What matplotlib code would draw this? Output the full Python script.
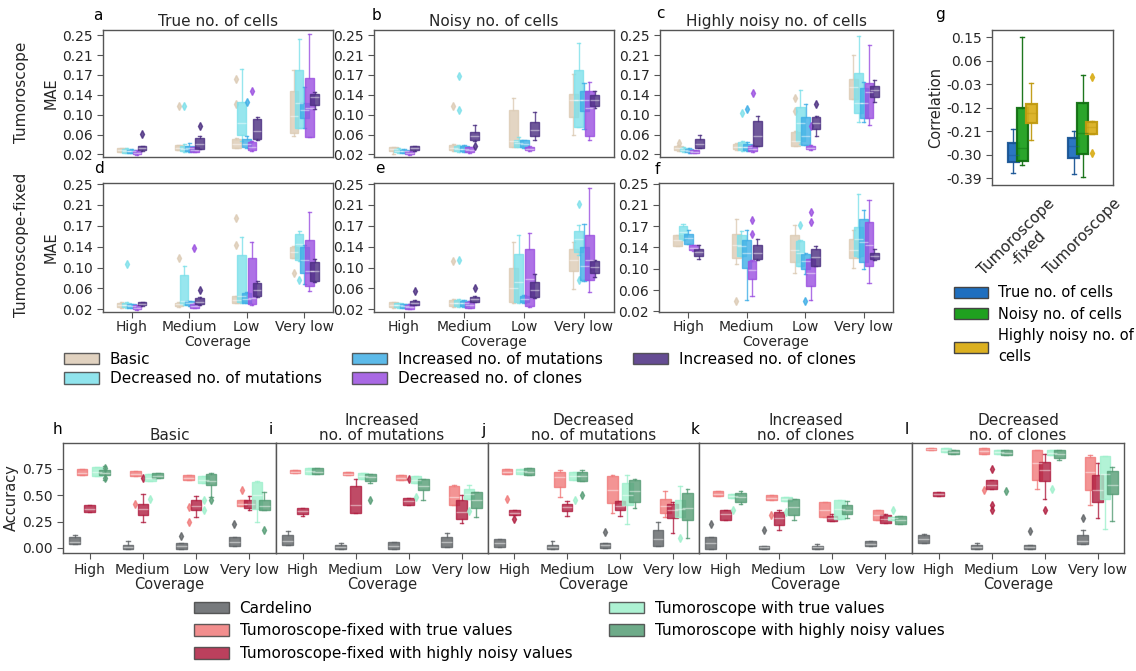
import numpy as np
import matplotlib.pyplot as plt
from matplotlib.patches import Patch

W, H = 1136, 671
fig = plt.figure(figsize=(W / 100, H / 100), dpi=100)
plt.rcParams['font.family'] = 'DejaVu Sans'

coverage = ["High", "Medium", "Low", "Very low"]

# ---- panels a-f : MAE, box stats per coverage, 5 scenarios (lo, q1, med, q3, hi) ----
scenarios = ["Basic", "Decreased no. of mutations", "Increased no. of mutations",
             "Decreased no. of clones", "Increased no. of clones"]
scen_colors = ["#dccbb5", "#7de0ea", "#3faee6", "#9a4fe0", "#4a2d80"]

mae_a = [
    [(0.024, 0.025, 0.028, 0.032, 0.033), (0.022, 0.023, 0.027, 0.031, 0.032), (0.022, 0.023, 0.026, 0.029, 0.030), (0.019, 0.020, 0.023, 0.027, 0.028), (0.027, 0.028, 0.032, 0.036, 0.037)],
    [(0.028, 0.029, 0.033, 0.0375, 0.039), (0.025, 0.026, 0.031, 0.036, 0.040), (0.025, 0.027, 0.032, 0.037, 0.042), (0.024, 0.025, 0.029, 0.034, 0.035), (0.030, 0.031, 0.040, 0.052, 0.055)],
    [(0.032, 0.033, 0.040, 0.050, 0.052), (0.045, 0.057, 0.080, 0.122, 0.184), (0.033, 0.034, 0.041, 0.050, 0.055), (0.027, 0.028, 0.035, 0.044, 0.045), (0.047, 0.050, 0.065, 0.089, 0.092)],
    [(0.055, 0.062, 0.095, 0.143, 0.182), (0.070, 0.070, 0.120, 0.182, 0.242), (0.070, 0.090, 0.105, 0.120, 0.150), (0.054, 0.054, 0.110, 0.167, 0.252), (0.107, 0.115, 0.130, 0.137, 0.140)],
]
fliers_a = {(0, 4): [0.059], (1, 0): [0.113], (1, 1): [0.113], (1, 4): [0.075],
            (2, 0): [0.166, 0.117], (2, 2): [0.121], (2, 3): [0.143]}

mae_b = [
    [(0.021, 0.026, 0.030, 0.034, 0.035), (0.023, 0.024, 0.027, 0.031, 0.032), (0.022, 0.023, 0.026, 0.029, 0.030), (0.019, 0.020, 0.023, 0.026, 0.027), (0.027, 0.028, 0.032, 0.036, 0.037)],
    [(0.027, 0.028, 0.033, 0.039, 0.041), (0.025, 0.026, 0.031, 0.037, 0.038), (0.025, 0.026, 0.031, 0.037, 0.038), (0.023, 0.024, 0.029, 0.034, 0.035), (0.045, 0.048, 0.055, 0.063, 0.077)],
    [(0.034, 0.035, 0.045, 0.105, 0.129), (0.034, 0.035, 0.042, 0.048, 0.053), (0.033, 0.034, 0.040, 0.047, 0.048), (0.027, 0.028, 0.031, 0.035, 0.036), (0.048, 0.056, 0.068, 0.082, 0.102)],
    [(0.058, 0.092, 0.125, 0.137, 0.175), (0.072, 0.072, 0.125, 0.183, 0.234), (0.069, 0.104, 0.125, 0.142, 0.157), (0.048, 0.056, 0.110, 0.143, 0.160), (0.110, 0.113, 0.125, 0.134, 0.143)],
]
fliers_b = {(1, 0): [0.113], (1, 1): [0.172, 0.106], (1, 4): [0.036]}

mae_c = [
    [(0.027, 0.028, 0.032, 0.037, 0.038), (0.025, 0.026, 0.029, 0.033, 0.034), (0.023, 0.024, 0.027, 0.031, 0.032), (0.022, 0.023, 0.025, 0.028, 0.029), (0.032, 0.033, 0.040, 0.050, 0.058)],
    [(0.029, 0.030, 0.035, 0.041, 0.042), (0.027, 0.028, 0.035, 0.044, 0.046), (0.027, 0.028, 0.034, 0.041, 0.043), (0.025, 0.026, 0.031, 0.037, 0.038), (0.036, 0.037, 0.055, 0.084, 0.094)],
    [(0.036, 0.037, 0.045, 0.064, 0.066), (0.040, 0.045, 0.080, 0.111, 0.144), (0.038, 0.039, 0.055, 0.092, 0.118), (0.029, 0.030, 0.033, 0.037, 0.038), (0.055, 0.069, 0.080, 0.092, 0.094)],
    [(0.126, 0.126, 0.150, 0.166, 0.212), (0.082, 0.100, 0.120, 0.177, 0.249), (0.083, 0.090, 0.120, 0.149, 0.160), (0.077, 0.090, 0.140, 0.158, 0.232), (0.122, 0.130, 0.145, 0.152, 0.164)],
]
fliers_c = {(0, 0): [0.042], (1, 1): [0.100], (1, 2): [0.108], (1, 3): [0.139],
            (2, 0): [0.128, 0.103], (2, 3): [0.074], (2, 4): [0.118]}

mae_d = [
    [(0.023, 0.024, 0.028, 0.032, 0.033), (0.023, 0.024, 0.028, 0.032, 0.033), (0.022, 0.023, 0.026, 0.029, 0.030), (0.019, 0.020, 0.023, 0.027, 0.028), (0.026, 0.027, 0.030, 0.033, 0.034)],
    [(0.025, 0.026, 0.029, 0.032, 0.033), (0.028, 0.029, 0.035, 0.083, 0.100), (0.026, 0.027, 0.031, 0.035, 0.036), (0.022, 0.023, 0.026, 0.030, 0.031), (0.028, 0.029, 0.034, 0.041, 0.042)],
    [(0.031, 0.032, 0.037, 0.044, 0.045), (0.032, 0.033, 0.045, 0.120, 0.152), (0.031, 0.032, 0.038, 0.050, 0.052), (0.028, 0.029, 0.040, 0.115, 0.144), (0.043, 0.044, 0.055, 0.069, 0.072)],
    [(0.114, 0.115, 0.125, 0.135, 0.137), (0.108, 0.110, 0.140, 0.158, 0.163), (0.066, 0.087, 0.110, 0.134, 0.138), (0.054, 0.062, 0.090, 0.147, 0.198), (0.071, 0.072, 0.090, 0.107, 0.112)],
]
fliers_d = {(0, 1): [0.103], (1, 0): [0.115], (1, 3): [0.132], (1, 4): [0.055],
            (2, 0): [0.187, 0.138], (3, 0): [0.087], (3, 1): [0.073]}

mae_e = [
    [(0.022, 0.024, 0.028, 0.033, 0.034), (0.023, 0.024, 0.027, 0.031, 0.032), (0.022, 0.023, 0.026, 0.029, 0.030), (0.020, 0.021, 0.024, 0.028, 0.029), (0.027, 0.028, 0.032, 0.036, 0.037)],
    [(0.025, 0.026, 0.031, 0.037, 0.038), (0.025, 0.026, 0.031, 0.037, 0.038), (0.025, 0.026, 0.031, 0.036, 0.037), (0.022, 0.023, 0.028, 0.034, 0.035), (0.033, 0.034, 0.038, 0.043, 0.044)],
    [(0.032, 0.033, 0.060, 0.096, 0.144), (0.032, 0.033, 0.070, 0.121, 0.157), (0.032, 0.033, 0.038, 0.045, 0.046), (0.025, 0.026, 0.075, 0.130, 0.160), (0.041, 0.042, 0.055, 0.070, 0.084)],
    [(0.057, 0.090, 0.110, 0.130, 0.144), (0.120, 0.126, 0.150, 0.163, 0.174), (0.072, 0.073, 0.100, 0.134, 0.177), (0.051, 0.074, 0.110, 0.157, 0.242), (0.079, 0.087, 0.098, 0.109, 0.110)],
]
fliers_e = {(0, 4): [0.054], (1, 0): [0.109], (1, 1): [0.111], (1, 4): [0.059], (3, 1): [0.213, 0.073]}

mae_f = [
    [(0.137, 0.138, 0.148, 0.157, 0.158), (0.149, 0.150, 0.162, 0.174, 0.177), (0.141, 0.142, 0.152, 0.160, 0.166), (0.129, 0.130, 0.134, 0.139, 0.140), (0.115, 0.120, 0.127, 0.133, 0.139)],
    [(0.105, 0.117, 0.140, 0.159, 0.187), (0.119, 0.120, 0.138, 0.157, 0.165), (0.041, 0.099, 0.125, 0.148, 0.166), (0.048, 0.079, 0.095, 0.111, 0.112), (0.113, 0.114, 0.125, 0.139, 0.150)],
    [(0.090, 0.109, 0.130, 0.157, 0.175), (0.101, 0.102, 0.125, 0.147, 0.148), (0.087, 0.097, 0.110, 0.124, 0.125), (0.041, 0.065, 0.090, 0.114, 0.115), (0.101, 0.102, 0.118, 0.132, 0.137)],
    [(0.099, 0.117, 0.130, 0.151, 0.166), (0.118, 0.119, 0.150, 0.171, 0.232), (0.096, 0.109, 0.145, 0.187, 0.202), (0.071, 0.101, 0.140, 0.181, 0.220), (0.113, 0.114, 0.120, 0.126, 0.132)],
]
fliers_f = {(1, 0): [0.039], (1, 3): [0.184, 0.160], (2, 1): [0.175], (2, 2): [0.039], (2, 3): [0.199, 0.180]}

mae_titles = ["True no. of cells", "Noisy no. of cells", "Highly noisy no. of cells"]
mae_ticks = np.linspace(0.02, 0.25, 7)
mae_ticklabels = ["0.02", "0.06", "0.10", "0.14", "0.17", "0.21", "0.25"]

# ---- panel g : correlation ----
models_g = ["Tumoroscope\n-fixed", "Tumoroscope"]
cells_noise = ["True no. of cells", "Noisy no. of cells", "Highly noisy no. of\ncells"]
noise_colors = ["#1f6fbf", "#1fa01f", "#dbb020"]
noise_edges = ["#1a5595", "#137013", "#c09a10"]
corr = [
    [(-0.369, -0.326, -0.301, -0.256, -0.202), (-0.339, -0.323, -0.275, -0.122, 0.153), (-0.243, -0.177, -0.139, -0.105, -0.026)],
    [(-0.374, -0.314, -0.266, -0.237, -0.208), (-0.386, -0.297, -0.218, -0.103, 0.006), (-0.222, -0.220, -0.192, -0.173, -0.170)],
]
fliers_g = {(1, 2): [-0.001, -0.292]}
corr_ticks = np.linspace(-0.39, 0.15, 7)
corr_ticklabels = ["-0.39", "-0.30", "-0.21", "-0.12", "-0.03", "0.06", "0.15"]

# ---- panels h-l : accuracy, 5 methods ----
methods = ["Cardelino", "Tumoroscope-fixed with true values", "Tumoroscope-fixed with highly noisy values",
           "Tumoroscope with true values", "Tumoroscope with highly noisy values"]
method_colors = ["#5f6366", "#f07a7a", "#b01e40", "#9ff0cc", "#559c75"]
acc_titles = ["Basic", "Increased\nno. of mutations", "Decreased\nno. of mutations",
              "Increased\nno. of clones", "Decreased\nno. of clones"]

acc_h = [
    [(0.034, 0.034, 0.06, 0.103, 0.12), (0.687, 0.687, 0.71, 0.75, 0.75), (0.34, 0.34, 0.37, 0.403, 0.403), (0.677, 0.677, 0.72, 0.766, 0.77), (0.645, 0.687, 0.71, 0.74, 0.78)],
    [(-0.007, -0.007, 0.01, 0.024, 0.065), (0.68, 0.68, 0.70, 0.725, 0.725), (0.245, 0.315, 0.37, 0.42, 0.507), (0.633, 0.633, 0.66, 0.703, 0.703), (0.665, 0.665, 0.68, 0.712, 0.712)],
    [(-0.007, -0.007, 0.02, 0.047, 0.047), (0.646, 0.646, 0.665, 0.687, 0.687), (0.293, 0.356, 0.40, 0.45, 0.488), (0.614, 0.614, 0.64, 0.677, 0.677), (0.482, 0.592, 0.63, 0.703, 0.709)],
    [(0.015, 0.015, 0.06, 0.103, 0.103), (0.394, 0.394, 0.42, 0.45, 0.45), (0.362, 0.38, 0.42, 0.457, 0.488), (0.245, 0.37, 0.50, 0.624, 0.633), (0.356, 0.356, 0.40, 0.45, 0.529)],
]
fliers_h = {(0, 4): [0.66, 0.76], (1, 1): [0.42], (1, 2): [0.665], (1, 3): [0.466], (2, 0): [0.11],
            (2, 1): [0.39, 0.25], (2, 3): [0.36, 0.457], (2, 4): [0.45], (3, 0): [0.23], (3, 1): [0.55], (3, 4): [0.166]}

acc_i = [
    [(0.025, 0.025, 0.07, 0.119, 0.16), (0.71, 0.71, 0.72, 0.74, 0.74), (0.302, 0.318, 0.35, 0.381, 0.381), (0.703, 0.703, 0.725, 0.756, 0.756), (0.696, 0.696, 0.72, 0.756, 0.756)],
    [(-0.007, -0.007, 0.01, 0.03, 0.047), (0.687, 0.687, 0.70, 0.718, 0.718), (0.33, 0.33, 0.403, 0.583, 0.655), (0.655, 0.655, 0.68, 0.709, 0.709), (0.614, 0.633, 0.67, 0.703, 0.703)],
    [(-0.007, -0.007, 0.02, 0.056, 0.056), (0.64, 0.64, 0.66, 0.687, 0.687), (0.403, 0.403, 0.44, 0.475, 0.475), (0.614, 0.614, 0.64, 0.677, 0.677), (0.457, 0.545, 0.59, 0.655, 0.655)],
    [(0.009, 0.009, 0.06, 0.103, 0.144), (0.403, 0.403, 0.48, 0.583, 0.592), (0.236, 0.277, 0.34, 0.45, 0.498), (0.466, 0.466, 0.51, 0.56, 0.592), (0.293, 0.381, 0.45, 0.53, 0.53)],
]
fliers_i = {(1, 4): [0.45], (2, 2): [0.65], (2, 3): [0.482], (3, 3): [0.35]}

acc_j = [
    [(0.009, 0.009, 0.05, 0.087, 0.087), (0.696, 0.696, 0.72, 0.75, 0.75), (0.308, 0.308, 0.33, 0.362, 0.362), (0.703, 0.703, 0.725, 0.75, 0.75), (0.687, 0.687, 0.72, 0.759, 0.759)],
    [(-0.01, -0.01, 0.01, 0.024, 0.065), (0.482, 0.576, 0.67, 0.718, 0.74), (0.299, 0.35, 0.385, 0.419, 0.44), (0.64, 0.64, 0.68, 0.718, 0.718), (0.633, 0.633, 0.68, 0.718, 0.74)],
    [(0.0, 0.0, 0.025, 0.05, 0.05), (0.33, 0.425, 0.55, 0.677, 0.693), (0.299, 0.362, 0.40, 0.44, 0.44), (0.223, 0.403, 0.50, 0.614, 0.693), (0.381, 0.435, 0.54, 0.64, 0.655)],
    [(0.015, 0.015, 0.08, 0.166, 0.245), (0.293, 0.33, 0.40, 0.466, 0.535), (0.141, 0.286, 0.36, 0.419, 0.435), (0.293, 0.293, 0.37, 0.45, 0.583), (0.097, 0.261, 0.38, 0.52, 0.561)],
]
fliers_j = {(0, 1): [0.466], (0, 2): [0.277], (1, 3): [0.457], (1, 4): [0.498], (2, 0): [0.15], (3, 3): [0.094]}

acc_k = [
    [(-0.007, -0.007, 0.05, 0.103, 0.103), (0.488, 0.488, 0.51, 0.535, 0.535), (0.267, 0.267, 0.32, 0.362, 0.362), (0.475, 0.475, 0.495, 0.513, 0.513), (0.412, 0.435, 0.48, 0.52, 0.535)],
    [(-0.007, -0.007, 0.005, 0.015, 0.015), (0.45, 0.45, 0.475, 0.498, 0.498), (0.173, 0.22, 0.28, 0.34, 0.362), (0.444, 0.444, 0.465, 0.482, 0.482), (0.267, 0.308, 0.39, 0.466, 0.466)],
    [(-0.007, -0.007, 0.005, 0.015, 0.034), (0.293, 0.293, 0.36, 0.435, 0.435), (0.255, 0.255, 0.28, 0.299, 0.324), (0.277, 0.277, 0.37, 0.457, 0.457), (0.286, 0.318, 0.36, 0.403, 0.44)],
    [(0.015, 0.015, 0.04, 0.065, 0.065), (0.261, 0.261, 0.31, 0.362, 0.362), (0.236, 0.236, 0.27, 0.308, 0.318), (0.261, 0.261, 0.28, 0.293, 0.293), (0.23, 0.23, 0.265, 0.299, 0.299)],
]
fliers_k = {(0, 0): [0.23], (0, 3): [0.356], (1, 0): [0.166], (1, 1): [0.308], (1, 3): [0.34], (3, 3): [0.356]}

acc_l = [
    [(0.047, 0.047, 0.08, 0.119, 0.135), (0.923, 0.923, 0.935, 0.949, 0.949), (0.488, 0.488, 0.51, 0.529, 0.529), (0.908, 0.908, 0.93, 0.949, 0.949), (0.892, 0.892, 0.91, 0.93, 0.93)],
    [(-0.007, -0.007, 0.01, 0.024, 0.047), (0.886, 0.886, 0.92, 0.949, 0.949), (0.561, 0.561, 0.60, 0.646, 0.646), (0.886, 0.886, 0.91, 0.93, 0.93), (0.876, 0.876, 0.90, 0.924, 0.924)],
    [(-0.007, -0.007, 0.01, 0.024, 0.024), (0.561, 0.646, 0.80, 0.924, 0.924), (0.46, 0.633, 0.74, 0.813, 0.886), (0.876, 0.876, 0.90, 0.924, 0.924), (0.835, 0.854, 0.89, 0.93, 0.93)],
    [(0.034, 0.034, 0.07, 0.119, 0.173), (0.403, 0.545, 0.72, 0.86, 0.876), (0.283, 0.435, 0.55, 0.687, 0.804), (0.182, 0.466, 0.70, 0.867, 0.867), (0.252, 0.507, 0.60, 0.725, 0.766)],
]
fliers_l = {(1, 1): [0.55], (1, 2): [0.75, 0.403, 0.356], (1, 4): [0.535], (2, 0): [0.16],
            (2, 2): [0.362], (2, 3): [0.561], (3, 0): [0.286]}

acc_ticks = [0.0, 0.25, 0.5, 0.75]
acc_ticklabels = ["0.00", "0.25", "0.50", "0.75"]

SPINE = "#555555"
TXT = "#262626"


def px_axes(x0, y0, x1, y1):
    return fig.add_axes([x0 / W, 1 - y1 / H, (x1 - x0) / W, (y1 - y0) / H])


def style(ax):
    for s in ax.spines.values():
        s.set_color(SPINE)
        s.set_linewidth(1.0)
    ax.tick_params(colors=SPINE, labelcolor=TXT, labelsize=10, length=4, width=0.8)


def draw_boxes(ax, data, fliers, colors, spacing, width, edges=None, alpha=0.8):
    n = len(colors)
    for ci, row in enumerate(data):
        for mi, (lo, q1, med, q3, hi) in enumerate(row):
            st = dict(whislo=lo, q1=q1, med=med, q3=q3, whishi=hi, fliers=fliers.get((ci, mi), []))
            c = colors[mi]
            ec = edges[mi] if edges else c
            lw = 1.6 if edges else 1.0
            ax.bxp([st], positions=[ci + (mi - (n - 1) / 2) * spacing], widths=width,
                   capwidths=width * 0.35, patch_artist=True, manage_ticks=False,
                   boxprops=dict(facecolor=c, edgecolor=ec, alpha=alpha, lw=lw),
                   whiskerprops=dict(color=ec, alpha=alpha, lw=1.0),
                   capprops=dict(color=ec, alpha=alpha, lw=1.0),
                   medianprops=dict(color="white" if not edges else ec, alpha=0.45, lw=1.0),
                   flierprops=dict(marker="d", markersize=4, markerfacecolor=c,
                                   markeredgecolor=c, alpha=alpha))


# ---- top grid a-f ----
top_pos = [[(103, 30, 333, 157), (374, 30, 614, 157), (660, 30, 893, 157)],
           [(103, 183, 333, 312), (374, 183, 614, 312), (659, 183, 893, 312)]]
mae_data = [[(mae_a, fliers_a), (mae_b, fliers_b), (mae_c, fliers_c)],
            [(mae_d, fliers_d), (mae_e, fliers_e), (mae_f, fliers_f)]]
top_ylims = [[(0.015, 0.26)] * 3, [(0.015, 0.252), (0.015, 0.252), (0.019, 0.251)]]

for r in range(2):
    for c in range(3):
        ax = px_axes(*top_pos[r][c])
        data, fl = mae_data[r][c]
        draw_boxes(ax, data, fl, scen_colors, 0.09, 0.15)
        ax.set_xlim(-0.5, 3.5)
        ax.set_ylim(*top_ylims[r][c])
        ax.set_yticks(mae_ticks)
        ax.set_yticklabels(mae_ticklabels)
        style(ax)
        ax.set_xticks(range(4))
        if r == 0:
            ax.tick_params(axis="x", bottom=False, labelbottom=False)
            ax.set_title(mae_titles[c], fontsize=11, color=TXT, pad=3)
        else:
            ax.set_xticklabels(coverage)
            ax.tick_params(axis="x", pad=2)
            ax.set_xlabel("Coverage", fontsize=10, color=TXT, labelpad=0.5)
        if c == 0:
            ax.set_ylabel("MAE", fontsize=10.5, color=TXT, labelpad=2)

fig.text(22 / W, 1 - 92 / H, "Tumoroscope", rotation=90, ha="center", va="center", fontsize=11, color=TXT)
fig.text(22 / W, 1 - 245 / H, "Tumoroscope-fixed", rotation=90, ha="center", va="center", fontsize=11, color=TXT)

# ---- panel g ----
axg = px_axes(992, 30, 1113, 185)
draw_boxes(axg, corr, fliers_g, noise_colors, 0.15, 0.18, edges=noise_edges, alpha=0.95)
axg.set_xlim(-0.5, 1.5)
axg.set_ylim(-0.416, 0.178)
axg.set_yticks(corr_ticks)
axg.set_yticklabels(corr_ticklabels)
style(axg)
axg.set_xticks(range(2))
axg.set_xticklabels(models_g, rotation=45, ha="center", fontsize=11)
axg.tick_params(axis="x", bottom=False)
axg.set_ylabel("Correlation", fontsize=10.5, color=TXT, labelpad=2)

# ---- bottom h-l ----
bx = [63, 276, 488, 699, 912, 1124]
acc_data = [(acc_h, fliers_h), (acc_i, fliers_i), (acc_j, fliers_j), (acc_k, fliers_k), (acc_l, fliers_l)]
for k in range(5):
    ax = px_axes(bx[k], 443, bx[k + 1], 553)
    data, fl = acc_data[k]
    draw_boxes(ax, data, fl, method_colors, 0.14, 0.2)
    ax.set_xlim(-0.5, 3.5)
    ax.set_ylim(-0.048, 0.993)
    style(ax)
    ax.set_xticks(range(4))
    ax.set_xticklabels(coverage)
    ax.set_yticks(acc_ticks)
    ax.set_title(acc_titles[k], fontsize=11, color=TXT, pad=2, linespacing=1.0)
    ax.set_xlabel("Coverage", fontsize=10.5, color=TXT, labelpad=0)
    if k == 0:
        ax.set_yticklabels(acc_ticklabels)
        ax.set_ylabel("Accuracy", fontsize=10.5, color=TXT, labelpad=2)
    else:
        ax.tick_params(axis="y", left=False, labelleft=False)

# ---- panel letters ----
letters = {"a": (98, 15), "b": (377, 15), "c": (660, 13), "d": (99, 168), "e": (380, 168),
           "f": (657, 170), "g": (940, 15), "h": (57, 430), "i": (271, 430), "j": (483, 430),
           "k": (695, 430), "l": (907, 430)}
for t, (x, y) in letters.items():
    fig.text(x / W, 1 - y / H, t, ha="center", va="center", fontsize=11, color="black")

# ---- legends ----
leg_kw = dict(frameon=False, handlelength=2.3, handleheight=0.8,
              handletextpad=0.7, borderpad=0.2)

h_top = [Patch(facecolor=c, edgecolor="#444444", alpha=0.85, lw=1) for c in scen_colors]
fig.legend(h_top, scenarios, ncol=3, loc="upper left", bbox_to_anchor=(53 / W, 1 - 341 / H),
           columnspacing=2.0, fontsize=11, labelspacing=0.3, **leg_kw)

h_g = [Patch(facecolor=c, edgecolor="#444444", lw=1) for c in noise_colors]
lg = fig.legend(h_g, cells_noise, ncol=1, loc="upper left", bbox_to_anchor=(944 / W, 1 - 275 / H),
                fontsize=10.5, labelspacing=0.45, **leg_kw)
for t in lg.get_texts():
    t.set_linespacing(1.5)

h_bot = [Patch(facecolor=c, edgecolor="#444444", alpha=0.85, lw=1) for c in method_colors]
fig.legend(h_bot, methods, ncol=2, loc="upper left", bbox_to_anchor=(183 / W, 1 - 590 / H),
           columnspacing=2.4, fontsize=11, labelspacing=0.5, **leg_kw)

fig.savefig("out.png", dpi=100)
